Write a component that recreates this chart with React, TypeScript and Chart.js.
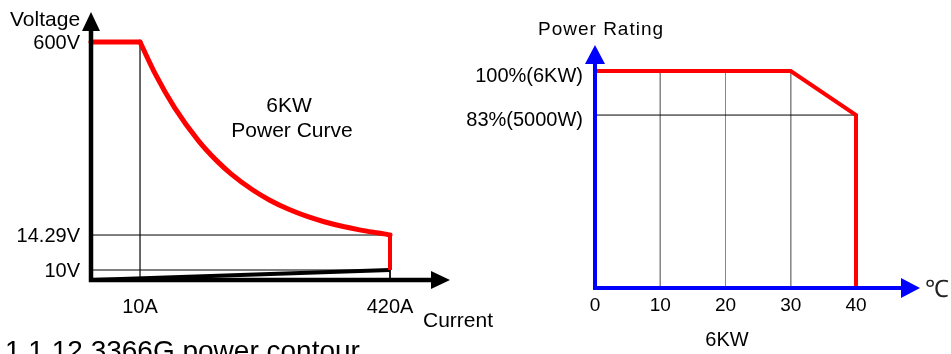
import React, { useEffect, useRef } from "react";
import { Chart, LinearScale, registerables } from "chart.js";

// ---- Output curve (6KW): voltage vs current ----
const currentTicks = [10, 420];
const voltageTicks = [10, 14.29, 600];

const ratedCurrent = [0, 10];
const ratedVoltage = [600, 600];

const curveCurrent = [10, 12, 15, 20, 25, 30, 40, 50, 65, 85, 110, 150, 200, 270, 340, 420];
const curveVoltage = [600, 500, 400, 300, 240, 200, 150, 120, 92.31, 70.59, 54.55, 40, 30, 22.22, 17.65, 14.29];

const dropCurrent = [420, 420];
const dropVoltage = [14.29, 10];

const floorCurrent = [0, 420];
const floorVoltage = [0, 10];

// ---- Power derating vs ambient temperature ----
const temperatureTicks = [0, 10, 20, 30, 40];
const ratingTicks = [83, 100];
const ratingLabels: Record<number, string> = { 83: "83%(5000W)", 100: "100%(6KW)" };

const deratingTemp = [0, 30, 40, 40];
const deratingPower = [100, 100, 83, 0];

const gridTemps = [10, 20, 30];

const FONT = '"Liberation Sans", Arial, sans-serif';
const RED = "#ff0000";
const BLUE = "#0000ff";

Chart.register(...registerables);

type Stop = { value: number; at: number; log?: boolean; bend?: number };

// Linear scale with a schematic (piecewise) value-to-position mapping.
class SchematicScale extends LinearScale {
  static id = "schematic";
  static defaults = { ticks: { callback: (v: number) => String(v) } };

  fractionFor(value: number): number {
    const stops: Stop[] = (this.options as any).stops;
    if (value <= stops[0].value) return stops[0].at;
    for (let i = 1; i < stops.length; i++) {
      const a = stops[i - 1];
      const b = stops[i];
      if (value <= b.value) {
        let t = b.log
          ? Math.log(value / a.value) / Math.log(b.value / a.value)
          : (value - a.value) / (b.value - a.value);
        if (b.bend) t = 1 - Math.pow(1 - t, b.bend);
        return a.at + t * (b.at - a.at);
      }
    }
    return stops[stops.length - 1].at;
  }

  getPixelForValue(value: number) {
    if (value === null || value === undefined || isNaN(value)) return NaN;
    return this.getPixelForDecimal(this.fractionFor(value));
  }

  getValueForPixel(pixel: number) {
    const f = this.getDecimalForPixel(pixel);
    let lo = this.min;
    let hi = this.max;
    for (let k = 0; k < 40; k++) {
      const mid = (lo + hi) / 2;
      if (this.fractionFor(mid) < f) lo = mid;
      else hi = mid;
    }
    return (lo + hi) / 2;
  }

  buildTicks() {
    return ((this.options as any).marks as number[]).map((value) => ({ value }));
  }
}
Chart.register(SchematicScale as any);

const pts = (xs: number[], ys: number[]) => xs.map((x, i) => ({ x, y: ys[i] }));

function line(data: { x: number; y: number }[], color: string, width: number, extra: any = {}) {
  return {
    data,
    borderColor: color,
    borderWidth: width,
    pointRadius: 0,
    fill: false,
    tension: 0,
    clip: false,
    ...extra,
  };
}

function drawAxes(
  ctx: CanvasRenderingContext2D,
  ox: number,
  oy: number,
  xTip: number,
  yTip: number,
  color: string,
  lw: number,
  head: number,
  half: number
) {
  ctx.save();
  ctx.strokeStyle = color;
  ctx.fillStyle = color;
  ctx.lineWidth = lw;
  ctx.lineCap = "butt";
  ctx.beginPath();
  ctx.moveTo(ox, oy + lw / 2);
  ctx.lineTo(ox, yTip + head);
  ctx.moveTo(ox - lw / 2, oy);
  ctx.lineTo(xTip - head, oy);
  ctx.stroke();
  ctx.beginPath();
  ctx.moveTo(ox, yTip);
  ctx.lineTo(ox - half, yTip + head);
  ctx.lineTo(ox + half, yTip + head);
  ctx.closePath();
  ctx.fill();
  ctx.beginPath();
  ctx.moveTo(xTip, oy);
  ctx.lineTo(xTip - head, oy - half);
  ctx.lineTo(xTip - head, oy + half);
  ctx.closePath();
  ctx.fill();
  ctx.restore();
}

function text(
  ctx: CanvasRenderingContext2D,
  s: string,
  x: number,
  y: number,
  size: number,
  align: CanvasTextAlign = "left",
  color = "#000",
  spacing = "0px"
) {
  ctx.save();
  ctx.font = `${size}px ${FONT}`;
  ctx.fillStyle = color;
  ctx.textAlign = align;
  ctx.textBaseline = "alphabetic";
  (ctx as any).letterSpacing = spacing;
  ctx.fillText(s, x, y);
  ctx.restore();
}

function powerCurveConfig(): any {
  const decor = {
    id: "powerCurveDecor",
    afterDraw(chart: any) {
      const { ctx, scales } = chart;
      const ox = scales.x.getPixelForValue(0);
      const oy = scales.y.getPixelForValue(0);
      drawAxes(ctx, ox, oy, scales.x.right + 60, scales.y.top - 30, "#000", 4.5, 19, 9);
      text(ctx, "Voltage", 10, 26, 21);
      text(ctx, "Current", 423, 327, 21);
      text(ctx, "6KW", 289, 112, 21, "center");
      text(ctx, "Power Curve", 292, 137, 21, "center");
      text(ctx, "1.1.12 3366G power contour", 5, 360, 28);
    },
  };
  return {
    type: "line",
    data: {
      datasets: [
        line(pts(ratedCurrent, ratedVoltage), RED, 5, { borderCapStyle: "round" }),
        line(pts(curveCurrent, curveVoltage), RED, 5, { cubicInterpolationMode: "monotone", borderCapStyle: "round" }),
        line(pts(dropCurrent, dropVoltage), RED, 4),
        line(pts(floorCurrent, floorVoltage), "#000", 4),
        line(pts([0, 420], [14.29, 14.29]), "#000", 1),
        line(pts([0, 420], [10, 10]), "#000", 1),
        line(pts([10, 10], [600, 0]), "#555", 1),
        line(pts([420, 420], [10, 0]), "#000", 1),
      ],
    },
    options: {
      responsive: false,
      devicePixelRatio: 1,
      animation: false,
      events: [],
      layout: { padding: { left: 0, top: 42, right: 130, bottom: 0 } },
      plugins: { legend: { display: false }, tooltip: { enabled: false } },
      scales: {
        x: {
          type: "schematic",
          min: 0,
          max: 420,
          stops: [
            { value: 0, at: 0 },
            { value: 10, at: 0.164 },
            { value: 420, at: 1, log: true, bend: 1.3 },
          ],
          marks: currentTicks,
          grid: { display: false, drawTicks: false },
          border: { display: false },
          ticks: {
            autoSkip: false,
            maxRotation: 0,
            padding: 15,
            color: "#000",
            font: { family: FONT, size: 20 },
            callback: (v: number) => `${v}A`,
          },
          afterFit: (s: any) => {
            s.height = 74;
          },
        },
        y: {
          type: "schematic",
          min: 0,
          max: 600,
          stops: [
            { value: 0, at: 0 },
            { value: 10, at: 0.042 },
            { value: 14.29, at: 0.189 },
            { value: 600, at: 1 },
          ],
          marks: voltageTicks,
          grid: { display: false, drawTicks: false },
          border: { display: false },
          ticks: {
            autoSkip: false,
            padding: 11,
            labelOffset: 1,
            color: "#000",
            font: { family: FONT, size: 20 },
            callback: (v: number) => `${v}V`,
          },
          afterFit: (s: any) => {
            s.width = 91;
          },
        },
      },
    },
    plugins: [decor],
  };
}

function deratingConfig(): any {
  const decor = {
    id: "deratingDecor",
    afterDraw(chart: any) {
      const { ctx, scales } = chart;
      const ox = scales.x.getPixelForValue(0);
      const oy = scales.y.getPixelForValue(0);
      drawAxes(ctx, ox, oy, scales.x.right + 64, scales.y.top - 26, BLUE, 4, 19, 10);
      text(ctx, "Power Rating", 538 - 460, 35, 19, "left", "#000", "1px");
      text(ctx, "6KW", 727 - 460, 346, 20, "center");
      text(ctx, "\u2103", 937 - 460, 297, 24, "center", "#222");
    },
  };
  return {
    type: "line",
    data: {
      datasets: [
        line(pts(deratingTemp, deratingPower), RED, 4),
        line(pts([0, 40], [83, 83]), "#000", 1),
        ...gridTemps.map((t) => line(pts([t, t], [100, 0]), "#888", 1)),
      ],
    },
    options: {
      responsive: false,
      devicePixelRatio: 1,
      animation: false,
      events: [],
      layout: { padding: { left: 0, top: 71, right: 95, bottom: 0 } },
      plugins: { legend: { display: false }, tooltip: { enabled: false } },
      scales: {
        x: {
          type: "linear",
          min: 0,
          max: 40,
          afterBuildTicks: (s: any) => {
            s.ticks = temperatureTicks.map((value) => ({ value }));
          },
          grid: { display: false, drawTicks: false },
          border: { display: false },
          ticks: {
            autoSkip: false,
            maxRotation: 0,
            padding: 6,
            color: "#000",
            font: { family: FONT, size: 19 },
          },
          afterFit: (s: any) => {
            s.height = 66;
          },
        },
        y: {
          type: "schematic",
          min: 0,
          max: 100,
          stops: [
            { value: 0, at: 0 },
            { value: 83, at: 0.797 },
            { value: 100, at: 1 },
          ],
          marks: ratingTicks,
          grid: { display: false, drawTicks: false },
          border: { display: false },
          ticks: {
            autoSkip: false,
            padding: 12,
            labelOffset: 5,
            color: "#000",
            font: { family: FONT, size: 20 },
            callback: (v: number) => ratingLabels[v] ?? String(v),
          },
          afterFit: (s: any) => {
            s.width = 135;
          },
        },
      },
    },
    plugins: [decor],
  };
}

export default function App() {
  const leftRef = useRef<HTMLCanvasElement>(null);
  const rightRef = useRef<HTMLCanvasElement>(null);

  useEffect(() => {
    const left = new Chart(leftRef.current!, powerCurveConfig());
    const right = new Chart(rightRef.current!, deratingConfig());
    return () => {
      left.destroy();
      right.destroy();
    };
  }, []);

  return (
    <div
      style={{
        position: "fixed",
        left: 0,
        top: 0,
        width: 951,
        height: 354,
        background: "#fff",
        overflow: "hidden",
      }}
    >
      <canvas
        ref={leftRef}
        width={520}
        height={354}
        style={{ position: "absolute", left: 0, top: 0, width: 520, height: 354 }}
      />
      <canvas
        ref={rightRef}
        width={491}
        height={354}
        style={{ position: "absolute", left: 460, top: 0, width: 491, height: 354 }}
      />
    </div>
  );
}
